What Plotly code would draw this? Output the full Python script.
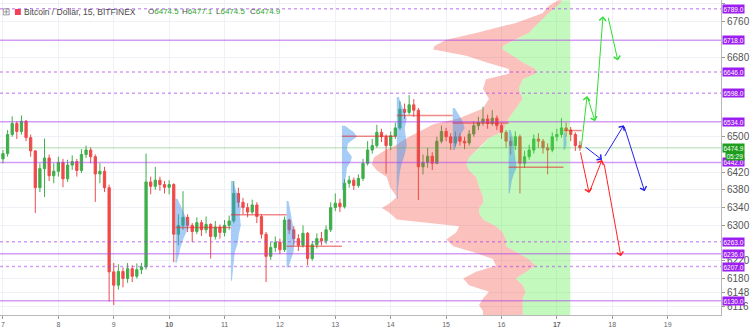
import plotly.graph_objects as go

# ---------------- data ----------------
START_DAY = 7.0
STEP_DAYS = 2 / 24          # 2-hour candles
FIRST_OPEN = 6450

CLOSE = [6462, 6505, 6530, 6512, 6535, 6498, 6468, 6385, 6428, 6452,
         6412, 6422, 6442, 6405, 6436, 6444, 6424, 6460, 6470, 6455,
         6416, 6422, 6385, 6195, 6165, 6196, 6180, 6202, 6185, 6200,
         6206, 6398, 6388, 6402, 6392, 6386, 6392, 6280, 6300, 6318,
         6300, 6286, 6306, 6290, 6302, 6275, 6296, 6284, 6300, 6310,
         6372, 6352, 6340, 6330, 6346, 6320, 6280, 6230, 6250, 6262,
         6245, 6312, 6290, 6270, 6255, 6282, 6225, 6256, 6270, 6265,
         6290, 6340, 6350, 6342, 6395, 6402, 6390, 6406, 6440, 6470,
         6480, 6510, 6500, 6480, 6502, 6520, 6562, 6555, 6572, 6560,
         6432, 6442, 6456, 6440, 6490, 6512, 6500, 6486, 6500, 6490,
         6486, 6506, 6525, 6532, 6540, 6530, 6542, 6525, 6510, 6490,
         6480, 6500, 6440, 6455, 6470, 6495, 6490, 6475, 6470, 6500,
         6505, 6520, 6515, 6505, 6480, 6474.9]
HIGH = [6470, 6515, 6546, 6535, 6548, 6538, 6505, 6470, 6440, 6496,
        6460, 6440, 6455, 6450, 6448, 6458, 6450, 6472, 6480, 6476,
        6460, 6440, 6432, 6392, 6215, 6212, 6205, 6215, 6210, 6214,
        6215, 6462, 6410, 6432, 6410, 6400, 6402, 6395, 6325, 6377,
        6325, 6305, 6318, 6312, 6320, 6305, 6310, 6302, 6312, 6322,
        6400, 6385, 6362, 6350, 6358, 6352, 6325, 6285, 6262, 6275,
        6270, 6320, 6315, 6298, 6280, 6300, 6285, 6265, 6282, 6285,
        6300, 6352, 6372, 6360, 6405, 6412, 6408, 6415, 6450, 6490,
        6495, 6527, 6518, 6505, 6512, 6532, 6580, 6575, 6594, 6585,
        6565, 6460, 6475, 6465, 6500, 6525, 6520, 6508, 6512, 6508,
        6500, 6515, 6535, 6545, 6568, 6550, 6560, 6548, 6530, 6515,
        6500, 6512, 6505, 6468, 6482, 6505, 6508, 6495, 6485, 6510,
        6518, 6542, 6532, 6522, 6510, 6490]
LOW = [6440, 6455, 6500, 6495, 6505, 6490, 6455, 6328, 6375, 6364,
       6400, 6395, 6410, 6386, 6398, 6425, 6410, 6418, 6452, 6440,
       6353, 6395, 6375, 6128, 6120, 6155, 6160, 6170, 6172, 6180,
       6190, 6200, 6370, 6380, 6378, 6372, 6370, 6217, 6255, 6290,
       6285, 6262, 6280, 6276, 6282, 6225, 6268, 6270, 6275, 6290,
       6305, 6340, 6325, 6318, 6325, 6305, 6270, 6172, 6222, 6240,
       6235, 6240, 6280, 6255, 6242, 6250, 6210, 6220, 6248, 6255,
       6258, 6285, 6332, 6330, 6338, 6385, 6380, 6385, 6400, 6435,
       6462, 6475, 6488, 6417, 6470, 6495, 6515, 6540, 6550, 6545,
       6357, 6415, 6430, 6425, 6438, 6485, 6490, 6470, 6478, 6480,
       6472, 6480, 6500, 6515, 6525, 6518, 6525, 6515, 6495, 6475,
       6460, 6470, 6372, 6430, 6448, 6462, 6475, 6462, 6415, 6465,
       6490, 6498, 6500, 6490, 6468, 6468]

# visible-range volume profile (price level, up volume, down volume)
VP_PRICE = [6808, 6795, 6779, 6757, 6734, 6719, 6705, 6697, 6683, 6668,
            6653, 6642, 6630, 6608, 6586, 6564, 6542, 6528, 6512, 6497,
            6482, 6468, 6453, 6438, 6424, 6409, 6387, 6364, 6350, 6339,
            6328, 6313, 6298, 6284, 6268, 6253, 6240, 6224, 6209, 6195,
            6180, 6165, 6150, 6135, 6120, 6106, 6097]
VP_UP = [8, 13, 22, 32, 42, 55, 68, 68, 58, 48,
         35, 35, 48, 52, 48, 55, 62, 65, 68, 82,
         88, 95, 102, 105, 102, 95, 92, 88, 88, 92,
         92, 88, 75, 68, 65, 65, 55, 42, 35, 45,
         55, 48, 45, 48, 48, 48, 48]
VP_DOWN = [4, 9, 6, 23, 53, 70, 69, 70, 47, 37,
           27, 27, 37, 36, 34, 33, 50, 73, 84, 83,
           87, 93, 96, 95, 93, 90, 90, 87, 94, 98,
           90, 87, 37, 47, 60, 53, 43, 36, 40, 50,
           53, 54, 37, 40, 44, 40, 40]

# session volume profiles
SESSION_START = [10.115, 11.115, 12.12, 13.12, 14.11, 15.12, 16.13, 17.12]
SESSION_END = [11.115, 12.12, 13.12, 14.11, 15.12, 16.13, 17.12, 17.45]
SESSION_POC = [6295, 6324, 6253, 6501, 6548, 6531, 6431, 6514]
SVP_PRICES = [
    [6360, 6340, 6320, 6300, 6290, 6270, 6250, 6230, 6215],
    [6400, 6380, 6360, 6340, 6320, 6300, 6280, 6260, 6240, 6220, 6200, 6175],
    [6355, 6330, 6300, 6280, 6260, 6240, 6220, 6205],
    [6525, 6510, 6500, 6485, 6470, 6455, 6445, 6430, 6410, 6395, 6380],
    [6590, 6570, 6555, 6540, 6520, 6500, 6480, 6460, 6440, 6420, 6400, 6380, 6360],
    [6565, 6550, 6535, 6520, 6505, 6490, 6470],
    [6515, 6500, 6485, 6470, 6455, 6440, 6430, 6415, 6400, 6385, 6372],
    [6510, 6495, 6480, 6470],
]
SVP_VOLS = [
    [2, 6, 10, 13, 12, 8, 5, 3, 1],
    [2, 5, 8, 10, 9, 10, 8, 7, 4, 3, 2, 1],
    [2, 4, 6, 8, 8, 7, 4, 2],
    [3, 12, 15, 6, 5, 10, 9, 5, 4, 2, 1],
    [2, 5, 8, 10, 8, 9, 10, 8, 5, 3, 2, 1, 1],
    [2, 6, 10, 12, 8, 5, 2],
    [2, 4, 5, 6, 7, 8, 8, 5, 3, 2, 1],
    [1, 3, 3, 1],
]

SOLID_LEVELS = [6718, 6534, 6442, 6236, 6130]
DASHED_LEVELS = [6789, 6646, 6598, 6263, 6207]
LAST_PRICE = 6474.9
COUNTDOWN = "05:29"

# projected paths (tail day, tail price, head day, head price)
GREEN_ARROWS = [(17.439, 6475, 17.546, 6592), (17.546, 6592, 17.689, 6535),
                (17.689, 6535, 17.833, 6772), (17.922, 6772, 18.101, 6672)]
RED_ARROWS = [(17.421, 6468, 17.582, 6373), (17.582, 6373, 17.815, 6448),
              (17.850, 6441, 18.155, 6230)]
BLUE_ARROWS = [(17.493, 6479, 17.815, 6448), (17.850, 6453, 18.208, 6526),
               (18.208, 6526, 18.584, 6377)]

DAY_TICKS = list(range(7, 20))
DAY_LABELS = ["7", "8", "9", "<b>10</b>", "11", "12", "13", "14", "15", "16",
              "<b>17</b>", "18", "19"]
Y_TICKS = [6800, 6760, 6680, 6500, 6420, 6380, 6340, 6300, 6220,
           6180, 6148, 6116]

# ---------------- styling ----------------
PX_PER_DAY = 55.85
X_RANGE = [7 - 3 / PX_PER_DAY, 7 - 3 / PX_PER_DAY + 727 / PX_PER_DAY]
Y_RANGE = [6097.6, 6808.7]
VP_ANCHOR = 17.242
VOL_SCALE = 1 / PX_PER_DAY
PURPLE = "rgba(170,60,236,0.5)"
LABEL_PURPLE = "#9c1ff0"
UP = "#3fae4a"
DOWN = "#ef4a4a"
FONT = "Liberation Sans"

fig = go.Figure()

# visible range volume profile: down part (left) and up part (right)
up_edge = [VP_ANCHOR - u * VOL_SCALE for u in VP_UP]
tot_edge = [VP_ANCHOR - (u + d) * VOL_SCALE for u, d in zip(VP_UP, VP_DOWN)]
fig.add_trace(go.Scatter(x=tot_edge + up_edge[::-1], y=VP_PRICE + VP_PRICE[::-1],
                         fill="toself", mode="lines", line=dict(width=0),
                         fillcolor="rgba(244,67,54,0.33)", hoverinfo="skip"))
fig.add_trace(go.Scatter(x=up_edge + [VP_ANCHOR, VP_ANCHOR],
                         y=VP_PRICE + [VP_PRICE[-1], VP_PRICE[0]],
                         fill="toself", mode="lines", line=dict(width=0),
                         fillcolor="rgba(76,237,58,0.33)", hoverinfo="skip"))

# session volume profiles
for s, prices, vols in zip(SESSION_START, SVP_PRICES, SVP_VOLS):
    xs = [s] + [s + v * VOL_SCALE for v in vols] + [s]
    ys = [prices[0]] + prices + [prices[-1]]
    fig.add_trace(go.Scatter(x=xs, y=ys, fill="toself", mode="lines",
                             line=dict(width=0), fillcolor="rgba(60,145,235,0.45)",
                             hoverinfo="skip"))

# POC lines
for s, e, p in zip(SESSION_START, SESSION_END, SESSION_POC):
    fig.add_trace(go.Scatter(x=[s, e], y=[p, p], mode="lines",
                             line=dict(color="rgba(232,40,40,0.55)", width=1.5),
                             hoverinfo="skip"))

# candles
OPEN = [FIRST_OPEN] + CLOSE[:-1]
X = [START_DAY + i * STEP_DAYS for i in range(len(CLOSE))]
fig.add_trace(go.Candlestick(
    x=X, open=OPEN, high=HIGH, low=LOW, close=CLOSE,
    increasing=dict(line=dict(color=UP, width=1), fillcolor=UP),
    decreasing=dict(line=dict(color=DOWN, width=1), fillcolor=DOWN),
    whiskerwidth=0, hoverinfo="skip"))

shapes = []
for lv in SOLID_LEVELS:
    shapes.append(dict(type="line", xref="paper", x0=0, x1=1, yref="y", y0=lv, y1=lv,
                       line=dict(color=PURPLE, width=1.5)))
for lv in DASHED_LEVELS:
    shapes.append(dict(type="line", xref="paper", x0=0, x1=1, yref="y", y0=lv, y1=lv,
                       line=dict(color=PURPLE, width=1.5, dash="3px,3px")))
shapes.append(dict(type="line", xref="paper", x0=0, x1=1, yref="y", y0=LAST_PRICE,
                   y1=LAST_PRICE, line=dict(color="rgba(76,175,80,0.45)", width=1)))
# red symbol square in header
shapes.append(dict(type="rect", xref="paper", yref="paper",
                   x0=15 / 727, x1=21 / 727, y0=1 - 15 / 315, y1=1 - 9 / 315,
                   line=dict(width=0), fillcolor="#f0405a"))

ann = []
for lv in SOLID_LEVELS + DASHED_LEVELS:
    ann.append(dict(xref="paper", x=1, xanchor="left", xshift=1, yref="y", y=lv,
                    text=f"{lv:.1f}", showarrow=False, bgcolor=LABEL_PURPLE,
                    font=dict(color="white", size=6.5, family=FONT), borderpad=0.5))
ann.append(dict(xref="paper", x=1, xanchor="left", xshift=1, yref="y", y=LAST_PRICE,
                text=f"{LAST_PRICE:.1f}", showarrow=False, bgcolor="#1e9e1e",
                font=dict(color="white", size=6.5, family=FONT), borderpad=0.5))
ann.append(dict(xref="paper", x=1, xanchor="left", xshift=4, yref="y", y=LAST_PRICE,
                yshift=-8.5, text=COUNTDOWN, showarrow=False, bgcolor="#1e9e1e",
                font=dict(color="white", size=6.5, family=FONT), borderpad=0.5))

# header
def hdr(px, text, color, size=8.5):
    return dict(xref="paper", yref="paper", x=px / 727, y=1 - 12 / 315, xanchor="left",
                yanchor="middle", text=text, showarrow=False, borderpad=0,
                font=dict(color=color, size=size, family=FONT))

ann.append(hdr(1, "⊞", "#888888", 10))
ann.append(hdr(23, "Bitcoin / Dollar, 15, BITFINEX", "#4a4a4a"))
ann.append(hdr(148, "O<span style='color:#2fa52f'>6474.5</span>", "#4a4a4a", 8))
ann.append(hdr(183, "H<span style='color:#2fa52f'>6477.1</span>", "#4a4a4a", 8))
ann.append(hdr(217, "L<span style='color:#2fa52f'>6474.5</span>", "#4a4a4a", 8))
ann.append(hdr(251, "C<span style='color:#2fa52f'>6474.9</span>", "#4a4a4a", 8))

for arrows, col in ((GREEN_ARROWS, "#33dd33"), (RED_ARROWS, "#ff2222"), (BLUE_ARROWS, "#2222ee")):
    for x0, y0, x1, y1 in arrows:
        ann.append(dict(x=x1, y=y1, ax=x0, ay=y0, xref="x", yref="y", axref="x", ayref="y",
                        text="", showarrow=True, arrowhead=4, arrowsize=1.3, arrowwidth=1,
                        arrowcolor=col, standoff=0, startstandoff=0))

fig.update_layout(
    width=750, height=329, margin=dict(l=0, r=23, t=0, b=14),
    paper_bgcolor="white", plot_bgcolor="white", showlegend=False,
    shapes=shapes, annotations=ann,
    xaxis=dict(range=X_RANGE, tickvals=DAY_TICKS, ticktext=DAY_LABELS,
               showgrid=True, gridcolor="#eef2f7", zeroline=False,
               rangeslider=dict(visible=False), ticks="outside", ticklen=3,
               tickcolor="#999", showline=True, linecolor="#b8b8b8",
               tickfont=dict(size=7, color="#666", family=FONT)),
    yaxis=dict(range=Y_RANGE, side="right", tickvals=Y_TICKS,
               showgrid=True, gridcolor="#eef2f7", zeroline=False,
               ticks="outside", ticklen=3, tickcolor="#999", showline=True,
               linecolor="#b8b8b8", tickfont=dict(size=10, color="#555", family=FONT)),
)

fig.write_html("out.html")
